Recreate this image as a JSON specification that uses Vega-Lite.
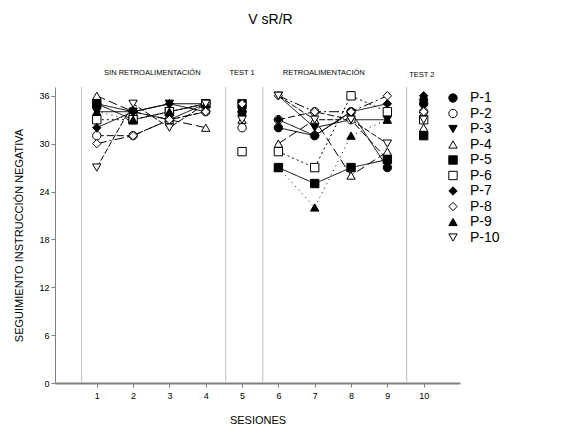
{
  "$schema": "https://vega.github.io/schema/vega-lite/v6.json",
  "width": 405,
  "height": 296,
  "autosize": "none",
  "padding": {"left": 55, "top": 87, "right": 126, "bottom": 56},
  "background": "white",
  "config": {"view": {"stroke": null}, "font": "Liberation Sans"},
  "title": {"text": "V sR/R", "font": "Liberation Sans", "fontSize": 14, "fontWeight": "normal", "offset": 42, "dx": 13, "color": "#000"},
  "datasets": {
    "phases": [{"b": 0.58}, {"b": 4.55}, {"b": 5.57}, {"b": 9.53}],
    "labels": [
      {"x": 2.53, "y": 38.8, "t": "SIN RETROALIMENTACIÓN"},
      {"x": 5.0, "y": 38.8, "t": "TEST 1"},
      {"x": 7.25, "y": 38.8, "t": "RETROALIMENTACIÓN"},
      {"x": 9.95, "y": 38.6, "t": "TEST 2"}
    ],
    "scores": [
      {"p":"P-1","s":1,"v":35,"ph":"A"},{"p":"P-1","s":2,"v":34,"ph":"A"},{"p":"P-1","s":3,"v":33,"ph":"A"},{"p":"P-1","s":4,"v":35,"ph":"A"},{"p":"P-1","s":5,"v":34,"ph":"T1"},{"p":"P-1","s":6,"v":32,"ph":"B"},{"p":"P-1","s":7,"v":31,"ph":"B"},{"p":"P-1","s":8,"v":34,"ph":"B"},{"p":"P-1","s":9,"v":27,"ph":"B"},{"p":"P-1","s":10,"v":35,"ph":"T2"},
      {"p":"P-2","s":1,"v":31,"ph":"A"},{"p":"P-2","s":2,"v":31,"ph":"A"},{"p":"P-2","s":3,"v":33,"ph":"A"},{"p":"P-2","s":4,"v":34,"ph":"A"},{"p":"P-2","s":5,"v":32,"ph":"T1"},{"p":"P-2","s":6,"v":33,"ph":"B"},{"p":"P-2","s":7,"v":34,"ph":"B"},{"p":"P-2","s":8,"v":33,"ph":"B"},{"p":"P-2","s":9,"v":28,"ph":"B"},{"p":"P-2","s":10,"v":34,"ph":"T2"},
      {"p":"P-3","s":1,"v":34,"ph":"A"},{"p":"P-3","s":2,"v":34,"ph":"A"},{"p":"P-3","s":3,"v":35,"ph":"A"},{"p":"P-3","s":4,"v":35,"ph":"A"},{"p":"P-3","s":5,"v":34,"ph":"T1"},{"p":"P-3","s":6,"v":36,"ph":"B"},{"p":"P-3","s":7,"v":32,"ph":"B"},{"p":"P-3","s":8,"v":33,"ph":"B"},{"p":"P-3","s":9,"v":33,"ph":"B"},{"p":"P-3","s":10,"v":35,"ph":"T2"},
      {"p":"P-4","s":1,"v":36,"ph":"A"},{"p":"P-4","s":2,"v":34,"ph":"A"},{"p":"P-4","s":3,"v":33,"ph":"A"},{"p":"P-4","s":4,"v":32,"ph":"A"},{"p":"P-4","s":5,"v":33,"ph":"T1"},{"p":"P-4","s":6,"v":30,"ph":"B"},{"p":"P-4","s":7,"v":33,"ph":"B"},{"p":"P-4","s":8,"v":26,"ph":"B"},{"p":"P-4","s":9,"v":29,"ph":"B"},{"p":"P-4","s":10,"v":32,"ph":"T2"},
      {"p":"P-5","s":1,"v":35,"ph":"A"},{"p":"P-5","s":2,"v":33,"ph":"A"},{"p":"P-5","s":3,"v":34,"ph":"A"},{"p":"P-5","s":4,"v":35,"ph":"A"},{"p":"P-5","s":5,"v":35,"ph":"T1"},{"p":"P-5","s":6,"v":27,"ph":"B"},{"p":"P-5","s":7,"v":25,"ph":"B"},{"p":"P-5","s":8,"v":27,"ph":"B"},{"p":"P-5","s":9,"v":28,"ph":"B"},{"p":"P-5","s":10,"v":31,"ph":"T2"},
      {"p":"P-6","s":1,"v":33,"ph":"A"},{"p":"P-6","s":2,"v":33,"ph":"A"},{"p":"P-6","s":3,"v":34,"ph":"A"},{"p":"P-6","s":4,"v":35,"ph":"A"},{"p":"P-6","s":5,"v":29,"ph":"T1"},{"p":"P-6","s":6,"v":29,"ph":"B"},{"p":"P-6","s":7,"v":27,"ph":"B"},{"p":"P-6","s":8,"v":36,"ph":"B"},{"p":"P-6","s":9,"v":34,"ph":"B"},{"p":"P-6","s":10,"v":33,"ph":"T2"},
      {"p":"P-7","s":1,"v":32,"ph":"A"},{"p":"P-7","s":2,"v":34,"ph":"A"},{"p":"P-7","s":3,"v":35,"ph":"A"},{"p":"P-7","s":4,"v":34,"ph":"A"},{"p":"P-7","s":5,"v":34,"ph":"T1"},{"p":"P-7","s":6,"v":33,"ph":"B"},{"p":"P-7","s":7,"v":31,"ph":"B"},{"p":"P-7","s":8,"v":34,"ph":"B"},{"p":"P-7","s":9,"v":35,"ph":"B"},{"p":"P-7","s":10,"v":36,"ph":"T2"},
      {"p":"P-8","s":1,"v":30,"ph":"A"},{"p":"P-8","s":2,"v":31,"ph":"A"},{"p":"P-8","s":3,"v":33,"ph":"A"},{"p":"P-8","s":4,"v":34,"ph":"A"},{"p":"P-8","s":5,"v":35,"ph":"T1"},{"p":"P-8","s":6,"v":36,"ph":"B"},{"p":"P-8","s":7,"v":34,"ph":"B"},{"p":"P-8","s":8,"v":34,"ph":"B"},{"p":"P-8","s":9,"v":36,"ph":"B"},{"p":"P-8","s":10,"v":34,"ph":"T2"},
      {"p":"P-9","s":1,"v":34,"ph":"A"},{"p":"P-9","s":2,"v":33,"ph":"A"},{"p":"P-9","s":3,"v":34,"ph":"A"},{"p":"P-9","s":4,"v":35,"ph":"A"},{"p":"P-9","s":5,"v":34,"ph":"T1"},{"p":"P-9","s":6,"v":27,"ph":"B"},{"p":"P-9","s":7,"v":22,"ph":"B"},{"p":"P-9","s":8,"v":31,"ph":"B"},{"p":"P-9","s":9,"v":33,"ph":"B"},{"p":"P-9","s":10,"v":36,"ph":"T2"},
      {"p":"P-10","s":1,"v":27,"ph":"A"},{"p":"P-10","s":2,"v":35,"ph":"A"},{"p":"P-10","s":3,"v":32,"ph":"A"},{"p":"P-10","s":4,"v":35,"ph":"A"},{"p":"P-10","s":5,"v":33,"ph":"T1"},{"p":"P-10","s":6,"v":36,"ph":"B"},{"p":"P-10","s":7,"v":33,"ph":"B"},{"p":"P-10","s":8,"v":33,"ph":"B"},{"p":"P-10","s":9,"v":30,"ph":"B"},{"p":"P-10","s":10,"v":33,"ph":"T2"}
    ]
  },
  "layer": [
    {
      "data": {"name": "phases"},
      "mark": {"type": "rule", "color": "#c8c8c8", "strokeWidth": 1.2},
      "encoding": {
        "x": {"field": "b", "type": "quantitative", "scale": {"domain": [-0.15, 11], "nice": false, "zero": false}}
      }
    },
    {
      "data": {"name": "scores"},
      "mark": {"type": "line", "color": "black", "strokeWidth": 1},
      "encoding": {
        "x": {"field": "s", "type": "quantitative", "scale": {"domain": [-0.15, 11], "nice": false, "zero": false},
              "axis": {"values": [1,2,3,4,5,6,7,8,9,10], "title": "SESIONES", "titleFontSize": 11, "titleFontWeight": "normal", "titlePadding": 14, "titleColor": "#000", "titleFont": "Liberation Sans", "labelFontSize": 9, "labelColor": "#000", "labelFont": "Liberation Sans", "labelPadding": 4, "domainColor": "#808080", "domainWidth": 2, "tickColor": "#808080", "tickSize": 4, "grid": false}},
        "y": {"field": "v", "type": "quantitative", "scale": {"domain": [0, 37.1], "nice": false},
              "axis": {"values": [0,6,12,18,24,30,36], "title": "SEGUIMIENTO INSTRUCCIÓN NEGATIVA", "titleFontSize": 11, "titleFontWeight": "normal", "titleColor": "#000", "titleFont": "Liberation Sans", "titlePadding": 14, "labelFontSize": 9, "labelColor": "#000", "labelFont": "Liberation Sans", "domainColor": "#808080", "tickColor": "#808080", "tickSize": 4, "grid": false}},
        "detail": [{"field": "p"}, {"field": "ph"}],
        "strokeDash": {"field": "p", "type": "nominal", "legend": null,
          "scale": {"range": [[1,0],[6,2],[7,3],[1,0],[9,4],[1,0],[2,3],[1,0],[10,3,2,3],[1,4]]}}
      }
    },
    {
      "data": {"name": "scores"},
      "mark": {"type": "point", "filled": true, "strokeWidth": 1, "opacity": 1, "size": 70},
      "encoding": {
        "x": {"field": "s", "type": "quantitative"},
        "y": {"field": "v", "type": "quantitative"},
        "shape": {"field": "p", "type": "nominal",
          "scale": {"domain": ["P-1","P-2","P-3","P-4","P-5","P-6","P-7","P-8","P-9","P-10"],
                    "range": ["circle","circle","triangle-down","triangle-up","square","square","diamond","diamond","triangle-up","triangle-down"]},
          "legend": {"title": null, "orient": "right", "offset": -18, "labelFontSize": 14, "labelFont": "Liberation Sans", "labelColor": "#000", "symbolSize": 70, "symbolStrokeWidth": 1, "rowPadding": 1.5, "labelOffset": 10, "padding": 4}},
        "fill": {"field": "p", "type": "nominal",
          "scale": {"domain": ["P-1","P-2","P-3","P-4","P-5","P-6","P-7","P-8","P-9","P-10"],
                    "range": ["black","white","black","white","black","white","black","white","black","white"]}},
        "stroke": {"field": "p", "type": "nominal",
          "scale": {"domain": ["P-1","P-2","P-3","P-4","P-5","P-6","P-7","P-8","P-9","P-10"],
                    "range": ["black","black","black","black","black","black","black","black","black","black"]}}
      }
    },
    {
      "data": {"name": "labels"},
      "mark": {"type": "text", "fontSize": 7.5, "font": "Liberation Sans", "color": "#000", "baseline": "middle"},
      "encoding": {
        "x": {"field": "x", "type": "quantitative"},
        "y": {"field": "y", "type": "quantitative"},
        "text": {"field": "t"}
      }
    }
  ]
}
